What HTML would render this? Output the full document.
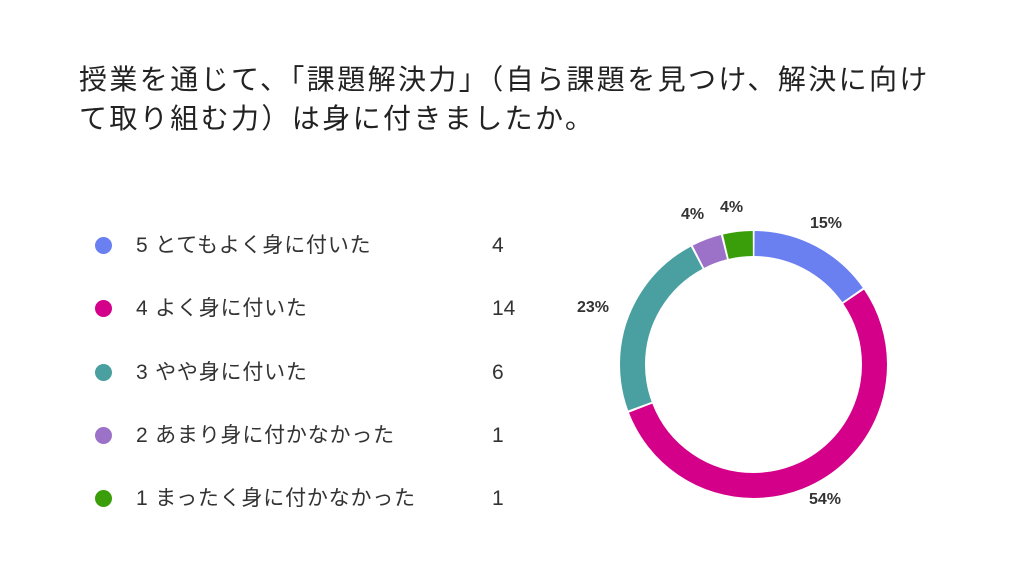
<!DOCTYPE html>
<html><head><meta charset="utf-8"><style>
body{margin:0;width:1024px;height:576px;background:#fff;overflow:hidden;font-family:"Liberation Sans","Noto Sans CJK JP",sans-serif;color:#222}
.t{position:absolute;left:79px;top:60px;font-size:28px;line-height:39px;letter-spacing:2.4px;white-space:nowrap}
.r{position:absolute;left:0;height:30px;font-size:21px;line-height:30px;color:#333}
.d{position:absolute;left:95px;width:17px;height:17px;border-radius:50%}
.l{position:absolute;left:136px;white-space:nowrap;letter-spacing:0.8px}
.n{position:absolute;left:492px}
.p{position:absolute;font-size:16px;font-weight:bold;color:#333}
</style></head><body>
<div class="t">授業を通じて、「課題解決力」（自ら課題を見つけ、解決に向け<br>て取り組む力）は身に付きましたか。</div>
<div class="r" style="top:231px"><div class="d" style="background:#6a7ff0;top:6px"></div><span class="l">5 とてもよく身に付いた</span><span class="n">4</span></div>
<div class="r" style="top:294px"><div class="d" style="background:#d4008a;top:6px"></div><span class="l">4 よく身に付いた</span><span class="n">14</span></div>
<div class="r" style="top:358px"><div class="d" style="background:#4a9fa0;top:6px"></div><span class="l">3 やや身に付いた</span><span class="n">6</span></div>
<div class="r" style="top:421px"><div class="d" style="background:#9c72c8;top:6px"></div><span class="l">2 あまり身に付かなかった</span><span class="n">1</span></div>
<div class="r" style="top:484px"><div class="d" style="background:#3a9e0b;top:6px"></div><span class="l">1 まったく身に付かなかった</span><span class="n">1</span></div>
<svg width="1024" height="576" style="position:absolute;left:0;top:0">
<g transform="rotate(-90 753.5 364.5)" fill="none" stroke-width="25">
<circle cx="753.5" cy="364.5" r="121" stroke="#6a7ff0" stroke-dasharray="114.97 700" stroke-dashoffset="-1"/>
<circle cx="753.5" cy="364.5" r="121" stroke="#d4008a" stroke-dasharray="407.4 700" stroke-dashoffset="-117.97"/>
<circle cx="753.5" cy="364.5" r="121" stroke="#4a9fa0" stroke-dasharray="173.5 700" stroke-dashoffset="-527.36"/>
<circle cx="753.5" cy="364.5" r="121" stroke="#9c72c8" stroke-dasharray="27.24 740" stroke-dashoffset="-702.81"/>
<circle cx="753.5" cy="364.5" r="121" stroke="#3a9e0b" stroke-dasharray="27.24 740" stroke-dashoffset="-732.05"/>
</g></svg>
<div class="p" style="left:810px;top:215px">15%</div>
<div class="p" style="left:809px;top:491px">54%</div>
<div class="p" style="left:577px;top:299px">23%</div>
<div class="p" style="left:681px;top:206px">4%</div>
<div class="p" style="left:720px;top:199px">4%</div>
</body></html>
